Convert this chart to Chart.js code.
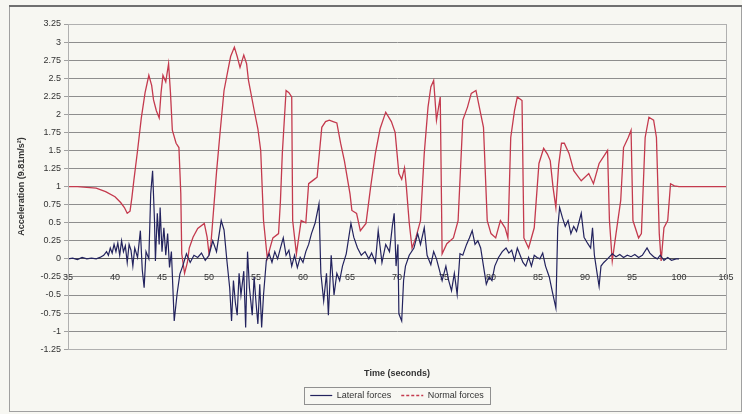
<!DOCTYPE html>
<html>
<head>
<meta charset="utf-8">
<script src="https://cdn.jsdelivr.net/npm/chart.js@4.4.0/dist/chart.umd.min.js"></script>
<style>
  html, body { margin: 0; padding: 0; background: #f7f7f2; }
</style>
</head>
<body>
<canvas id="forcas" width="742" height="414"></canvas>
<script>
// axis ticks
var xTicks = [35, 40, 45, 50, 55, 60, 65, 70, 75, 80, 85, 90, 95, 100, 105]
var yMin = -1.25
var yMax = 3.25
var yStep = 0.25

// Normal forces (red)
var normalTime = [35, 36, 37, 38, 39, 40, 40.6, 41, 41.3, 41.6, 41.8, 42, 42.4, 42.8, 43.2, 43.6, 43.9, 44.1, 44.4, 44.7,
  44.9, 45.1, 45.4, 45.7, 45.9, 46.1, 46.5, 46.8, 47, 47.1, 47.4, 47.7, 47.9, 48.3, 48.8, 49.5, 49.8, 50, 50.2, 50.4,
  50.8, 51.2, 51.6, 52, 52.3, 52.7, 53, 53.3, 53.7, 54, 54.2, 54.8, 55.2, 55.5, 55.8, 56.2, 56.6, 56.8, 57.4, 57.6,
  57.8, 58.2, 58.5, 58.8, 58.9, 59.3, 59.8, 60.3, 60.6, 61.2, 61.5, 62, 62.4, 62.8, 63.2, 63.6, 64, 64.4, 65, 65.2,
  65.7, 66.1, 66.7, 67.2, 67.7, 68.2, 68.8, 69.4, 69.8, 70.2, 70.5, 70.8, 71, 71.3, 71.6, 72, 72.5, 72.9, 73.3, 73.6,
  73.9, 74.2, 74.6, 74.8, 75.3, 76, 76.5, 77, 77.5, 77.9, 78.4, 78.9, 79.2, 79.6, 80, 80.5, 81, 81.5, 81.8, 82.1,
  82.5, 82.8, 83.3, 83.5, 84, 84.6, 85.1, 85.6, 86, 86.3, 86.6, 86.9, 87.2, 87.5, 87.8, 88.3, 88.8, 89.6, 90.4, 90.9,
  91.5, 92.2, 92.4, 92.6, 92.9, 93.3, 93.8, 94.1, 94.6, 94.9, 95.1, 95.7, 96, 96.4, 96.8, 97.3, 97.6, 97.9, 98.1, 98.4,
  98.8, 99.1, 99.5, 100, 102, 105]
var normalForces = [1, 1, 0.99, 0.98, 0.93, 0.86, 0.78, 0.71, 0.63, 0.66, 0.85, 1.08, 1.5, 1.95, 2.3, 2.54, 2.4, 2.2, 2.05, 1.95,
  2.3, 2.54, 2.45, 2.7, 2.3, 1.78, 1.6, 1.54, 0.9, 0.07, -0.2, -0.05, 0.15, 0.3, 0.42, 0.49, 0.3, 0.07, 0.2, 0.53,
  1.2, 1.78, 2.33, 2.6, 2.8, 2.93, 2.8, 2.65, 2.82, 2.7, 2.47, 2.06, 1.8, 1.5, 0.53, 0.01, 0.2, 0.29, 0.35, 0.8,
  1.46, 2.33, 2.3, 2.24, 0.53, 0.07, 0.53, 0.5, 1.04, 1.1, 1.13, 1.82, 1.9, 1.92, 1.9, 1.88, 1.6, 1.36, 0.9, 0.67,
  0.63, 0.39, 0.49, 1, 1.46, 1.8, 2.03, 1.9, 1.75, 1.18, 1.1, 1.26, 0.99, 0.5, 0.15, 0.29, 0.53, 1.46, 2.1, 2.38,
  2.47, 1.92, 2.24, 0.07, 0.21, 0.29, 0.53, 1.92, 2.1, 2.29, 2.33, 2.01, 1.82, 0.53, 0.35, 0.29, 0.53, 0.43, 0.29, 1.68,
  2.05, 2.24, 2.19, 0.29, 0.15, 0.43, 1.32, 1.53, 1.45, 1.36, 0.99, 0.71, 1.3, 1.6, 1.6, 1.46, 1.22, 1.08, 1.18, 1.04,
  1.32, 1.46, 1.5, 0.53, -0.03, 0.35, 0.81, 1.54, 1.68, 1.78, 0.53, 0.29, 0.35, 1.68, 1.96, 1.92, 1.68, 0.35, -0.03, 0.43,
  0.53, 1.04, 1.01, 1, 1, 1]

// Lateral forces (dark blue)
var lateralTime = [35, 35.5, 36, 36.5, 37, 37.5, 38, 38.4, 38.8, 39.1, 39.3, 39.5, 39.7, 39.9, 40.1, 40.3, 40.5, 40.7, 40.9, 41.1,
  41.3, 41.5, 41.7, 41.9, 42.1, 42.4, 42.7, 42.9, 43.1, 43.3, 43.6, 43.8, 44, 44.2, 44.3, 44.5, 44.7, 44.8, 45, 45.2,
  45.4, 45.6, 45.8, 46, 46.3, 46.6, 46.9, 47.2, 47.6, 48, 48.4, 48.8, 49.2, 49.6, 50, 50.4, 50.8, 51.3, 51.6, 51.9,
  52.2, 52.4, 52.6, 52.8, 53, 53.2, 53.4, 53.7, 53.9, 54.1, 54.3, 54.6, 54.8, 55, 55.2, 55.4, 55.6, 55.8, 56.1, 56.4,
  56.7, 57, 57.3, 57.6, 57.9, 58.2, 58.5, 58.8, 59.1, 59.4, 59.7, 60, 60.3, 60.6, 60.9, 61.3, 61.7, 61.9, 62.2, 62.5,
  62.7, 63, 63.3, 63.6, 63.9, 64.2, 64.6, 65.1, 65.4, 65.8, 66.2, 66.6, 67, 67.3, 67.7, 68, 68.4, 68.8, 69.2, 69.5,
  69.7, 69.9, 70.1, 70.2, 70.5, 70.7, 70.9, 71.3, 71.8, 72.2, 72.5, 72.9, 73.2, 73.6, 73.9, 74.2, 74.5, 74.8, 75.2, 75.5,
  75.8, 76.1, 76.4, 76.7, 77, 77.4, 77.7, 78, 78.3, 78.6, 78.9, 79.2, 79.5, 79.8, 80.1, 80.4, 80.8, 81.2, 81.6, 81.9,
  82.2, 82.5, 82.8, 83.1, 83.4, 83.7, 84, 84.3, 84.6, 84.9, 85.2, 85.5, 85.8, 86.2, 86.5, 86.9, 87.1, 87.3, 87.6, 87.9,
  88.2, 88.5, 88.8, 89.1, 89.6, 89.9, 90.3, 90.6, 90.8, 91, 91.3, 91.5, 91.7, 92, 92.4, 92.9, 93.3, 93.7, 94.1, 94.5,
  94.9, 95.3, 95.7, 96.1, 96.6, 96.9, 97.3, 97.7, 98, 98.4, 98.8, 99.2, 99.7, 100]
var lateralForces = [0, 0.01, -0.01, 0.02, 0, 0.01, 0, 0.02, 0.05, 0.1, 0.05, 0.15, 0.08, 0.2, 0.1, 0.22, 0.05, 0.25, 0.1, 0.18,
  -0.05, 0.2, 0.12, -0.1, 0.15, 0.02, 0.39, -0.15, -0.4, 0.1, 0, 0.9, 1.22, 0.53, -0.03, 0.63, 0.2, 0.71, 0.1, 0.43,
  0.05, 0.35, -0.12, 0.1, -0.86, -0.49, -0.21, -0.1, 0.07, -0.05, 0.05, 0.02, 0.08, -0.02, 0.05, 0.25, 0.1, 0.53, 0.4, -0.02,
  -0.4, -0.86, -0.3, -0.6, -0.78, -0.2, -0.5, -0.17, -0.95, 0.1, -0.4, -0.78, -0.25, -0.6, -0.9, -0.35, -0.95, -0.5, -0.02, 0.07,
  -0.05, 0.1, 0, 0.15, 0.29, 0.05, 0.12, -0.1, 0.05, -0.12, 0.02, -0.05, 0.1, 0.2, 0.35, 0.5, 0.76, -0.2, -0.58, -0.2,
  -0.78, 0.05, -0.5, -0.2, -0.3, -0.1, 0.07, 0.49, 0.3, 0.15, 0.05, 0.1, 0, 0.08, -0.05, 0.39, -0.05, 0.2, 0.1, 0.45,
  0.63, -0.1, 0.2, -0.76, -0.86, -0.3, -0.1, 0.05, 0.15, 0.35, 0.2, 0.43, 0.05, -0.08, 0.1, 0, -0.15, -0.3, -0.1, -0.3,
  -0.44, -0.2, -0.49, 0.07, 0.05, 0.2, 0.29, 0.39, 0.2, 0.25, 0.15, -0.1, -0.35, -0.25, -0.3, -0.1, 0.02, 0.1, 0.15, 0.08,
  0.12, -0.02, 0.15, 0.05, -0.05, -0.1, 0.02, -0.1, 0.05, 0.02, 0, 0.08, -0.1, -0.25, -0.44, -0.68, 0.43, 0.71, 0.57, 0.45,
  0.53, 0.35, 0.45, 0.38, 0.63, 0.3, 0.21, 0.15, 0.43, 0.05, -0.21, -0.38, -0.1, -0.05, 0, 0.07, 0.03, 0.06, 0.02, 0.05,
  0.03, 0.06, 0.02, 0.05, 0.15, 0.08, 0.03, 0, 0.05, -0.02, 0.02, -0.02, 0, 0]

function pontos(tempo, valores) {
  var arr = []
  for (var i = 0; i < tempo.length; i++) {
    arr.push({ x: tempo[i], y: valores[i] })
  }
  return arr
}

function rotulo(v) {
  return String(Number(v.toFixed(2)))
}

// outer frame, plot border and the box round the legend
var moldura = {
  id: 'moldura',
  beforeDraw(chart) {
    var ctx = chart.ctx
    ctx.save()
    ctx.fillStyle = '#f7f7f2'
    ctx.fillRect(0, 0, chart.width, chart.height)
    ctx.strokeStyle = '#a0a0a0'
    ctx.lineWidth = 1
    ctx.strokeRect(9.5, 6.5, 732, 405)
    ctx.strokeStyle = '#707070'
    ctx.lineWidth = 2
    ctx.beginPath()
    ctx.moveTo(9, 6)
    ctx.lineTo(742, 6)
    ctx.stroke()
    ctx.restore()
  },
  afterDraw(chart) {
    var ctx = chart.ctx
    var a = chart.chartArea
    ctx.save()
    ctx.strokeStyle = '#b0b0b0'
    ctx.lineWidth = 1
    ctx.strokeRect(Math.round(a.left) + 0.5, Math.round(a.top) + 0.5, Math.round(a.right - a.left), Math.round(a.bottom - a.top))
    var caixas = chart.legend.legendHitBoxes
    if (caixas && caixas.length) {
      var l = caixas[0].left, r = caixas[0].left + caixas[0].width
      var t = caixas[0].top, b = caixas[0].top + caixas[0].height
      caixas.forEach(function (c) {
        l = Math.min(l, c.left); r = Math.max(r, c.left + c.width)
        t = Math.min(t, c.top); b = Math.max(b, c.top + c.height)
      })
      ctx.strokeStyle = '#909090'
      ctx.strokeRect(Math.round(l - 6) + 0.5, Math.round(t - 4) + 0.5, Math.round(r - l + 12), Math.round(b - t + 8))
    }
    ctx.restore()
  }
}

var plots = document.getElementById('forcas')

new Chart(plots, {
  type: 'line',
  data: {
    datasets: [{
      label: 'Lateral forces',
      data: pontos(lateralTime, lateralForces),
      borderColor: '#23235e',
      backgroundColor: '#23235e',
      borderWidth: 1.2,
      pointRadius: 0,
      tension: 0
    }, {
      label: 'Normal forces',
      data: pontos(normalTime, normalForces),
      borderColor: '#c43a4e',
      backgroundColor: '#c43a4e',
      borderWidth: 1.3,
      pointRadius: 0,
      tension: 0
    }]
  },
  options: {
    responsive: false,
    animation: false,
    devicePixelRatio: 1,
    layout: { padding: { left: 10, right: 16, top: 24, bottom: 4 } },
    font: { family: 'Liberation Sans, Arial, sans-serif' },
    scales: {
      x: {
        type: 'linear',
        position: { y: 0 },
        min: 35,
        max: 105,
        afterBuildTicks(scale) {
          scale.ticks = xTicks.map(function (v) { return { value: v } })
        },
        afterFit(scale) {
          scale.paddingLeft = 4
          scale.paddingRight = 4
        },
        grid: { display: false, drawTicks: false },
        border: { display: true, color: '#555555', width: 1 },
        ticks: {
          padding: 13,
          color: '#333333',
          font: { size: 9, family: 'Liberation Sans, Arial, sans-serif' },
          maxRotation: 0,
          callback: function (v) { return rotulo(v) }
        }
      },
      y: {
        min: yMin,
        max: yMax,
        afterFit(scale) { scale.width = 58 },
        ticks: {
          stepSize: yStep,
          padding: 3,
          color: '#333333',
          font: { size: 9, family: 'Liberation Sans, Arial, sans-serif' },
          callback: function (v) { return rotulo(v) }
        },
        grid: { color: '#8e8e8e', tickLength: 4, tickColor: '#a0a0a0' },
        border: { display: true, color: '#b0b0b0' },
        title: {
          display: true,
          text: 'Acceleration (9.81m/s²)',
          color: '#333333',
          padding: { top: 6, bottom: 0 },
          font: { size: 9, weight: 'bold', family: 'Liberation Sans, Arial, sans-serif' }
        }
      }
    },
    plugins: {
      title: {
        display: true,
        position: 'bottom',
        fullSize: false,
        weight: 500,
        text: 'Time (seconds)',
        color: '#333333',
        padding: { top: 19, bottom: 2 },
        font: { size: 9, weight: 'bold', family: 'Liberation Sans, Arial, sans-serif' }
      },
      legend: {
        position: 'bottom',
        fullSize: false,
        labels: {
          usePointStyle: true,
          pointStyle: 'line',
          pointStyleWidth: 22,
          padding: 10,
          color: '#333333',
          font: { size: 9, family: 'Liberation Sans, Arial, sans-serif' },
          generateLabels(chart) {
            var itens = Chart.defaults.plugins.legend.labels.generateLabels(chart)
            if (itens[1]) itens[1].lineDash = [3, 2]
            return itens
          }
        }
      },
      tooltip: { enabled: false }
    }
  },
  plugins: [moldura]
})
</script>
</body>
</html>
